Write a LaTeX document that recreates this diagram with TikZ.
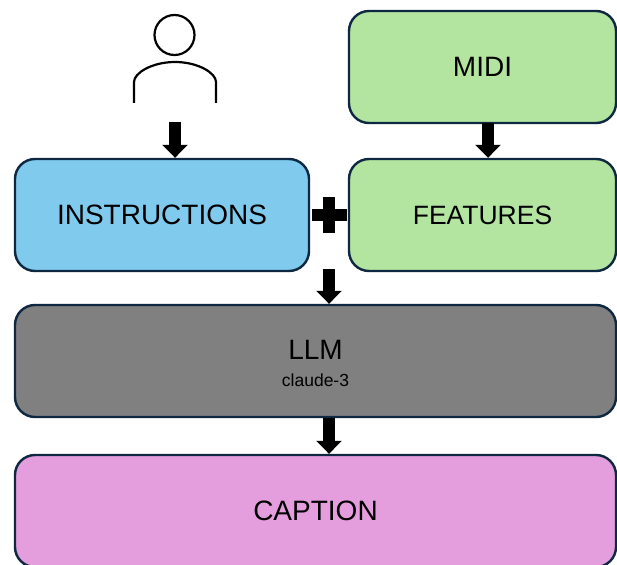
\documentclass[tikz,border=0pt]{standalone}
\usepackage{fontspec}
\setmainfont{Liberation Sans}
\usetikzlibrary{arrows.meta,calc}
\definecolor{edgeblue}{HTML}{0E2841}
\definecolor{boxblue}{HTML}{80CAEE}
\definecolor{boxgreen}{HTML}{B3E5A1}
\definecolor{boxgray}{HTML}{808080}
\definecolor{boxpink}{HTML}{E49EDD}
\tikzset{
  flowbox/.style={draw=edgeblue,line width=2.4pt,rounded corners=20pt,inner sep=0pt,
    minimum height=112pt,align=center,font=\fontsize{28}{30}\selectfont,text=black},
  widebox/.style={flowbox,minimum width=601pt},
  sidebox/.style={flowbox,minimum width=267pt},
  blockarrow/.style={line width=12pt,black,-{Triangle[length=13pt,width=25pt]}},
  plusbar/.style={fill=black,draw=none},
  personline/.style={draw=black,line width=2.2pt}
}
\begin{document}
\begin{tikzpicture}[x=1pt,y=-1pt]
\useasboundingbox (0,0) rectangle (617,564);
\fill[white] (0,0) rectangle (617,564);
\clip (0,0) rectangle (617,564);
% boxes
\node[sidebox,fill=boxgreen] (midi) at (482.5,67) {MIDI};
\node[sidebox,fill=boxgreen] (feat) at (482.5,215) {\fontsize{26.5}{30}\selectfont FEATURES};
\node[flowbox,fill=boxblue,minimum width=294pt] (instr) at (162,215) {INSTRUCTIONS};
\node[widebox,fill=boxgray] (llm) at (315.5,361) {\rule{0pt}{24pt}LLM\\[-3pt]{\fontsize{17.5}{19}\selectfont claude-3}};
\node[widebox,fill=boxpink] (cap) at (315.5,511) {CAPTION};
% person
\node[circle,personline,minimum size=40pt,inner sep=0pt] (head) at (174.5,35) {};
\coordinate (shl) at (134,103);
\coordinate (shr) at (216,103);
\draw[personline] (shl) -- (134,82) .. controls (134,73) and (152,62) .. (175,62)
  .. controls (198,62) and (216,73) .. (216,82) -- (shr);
% plus sign
\coordinate (plus) at (329,215);
\fill[plusbar] ($(plus)+(-17.5,-6.3)$) rectangle ($(plus)+(17.5,6.3)$);
\fill[plusbar] ($(plus)+(-6.2,-18)$) rectangle ($(plus)+(6.2,18)$);
% arrows
\coordinate (a1) at (175,122);
\coordinate (a2) at (488,123);
\coordinate (a3) at (329,269);
\coordinate (a4) at (329,418);
\draw[blockarrow] (a1) -- (a1 |- instr.north);
\draw[blockarrow] (a2) -- (a2 |- feat.north);
\draw[blockarrow] (a3) -- (a3 |- llm.north);
\draw[blockarrow] (a4) -- (a4 |- cap.north);
\end{tikzpicture}
\end{document}
